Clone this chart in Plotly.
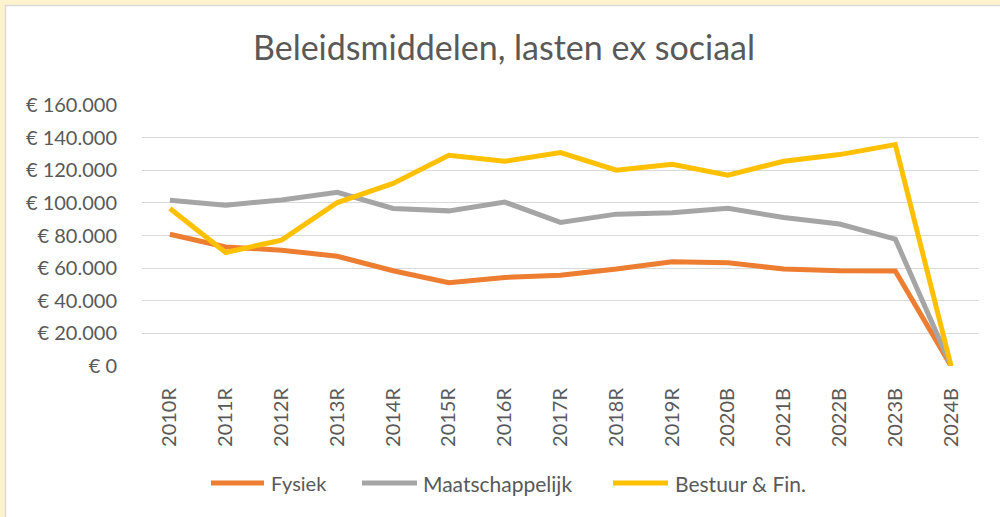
import plotly.graph_objects as go

categories = ["2010R", "2011R", "2012R", "2013R", "2014R", "2015R", "2016R", "2017R",
              "2018R", "2019R", "2020B", "2021B", "2022B", "2023B", "2024B"]
fysiek = [80800, 73000, 71000, 67300, 58400, 51000, 54300, 55700,
          59400, 63900, 63300, 59400, 58400, 58200, 0]
maatschappelijk = [101600, 98600, 101800, 106500, 96600, 95100, 100500, 88000,
                   93100, 93900, 96700, 91000, 87000, 77800, 0]
bestuur = [96600, 69600, 77200, 100200, 111900, 129200, 125500, 130800,
           120000, 123700, 117000, 125500, 129600, 135700, 0]

series_names = ["Fysiek", "Maatschappelijk", "Bestuur & Fin."]
series_colors = ["#ED7D31", "#A5A5A5", "#FFC000"]
y_ticks = [0, 20000, 40000, 60000, 80000, 100000, 120000, 140000, 160000]
y_ticktext = ["€ " + f"{v:,}".replace(",", ".") for v in y_ticks]

W, H = 1000, 517
L, R, T, B = 142, 21, 105, 151
PW, PH = W - L - R, H - T - B

def px(x):
    return (x - L) / PW

def py(y):
    return (H - B - y) / PH

FONT = "Lato, 'Open Sans', sans-serif"
TXT = "#595959"

fig = go.Figure()
for name, vals, col in zip(series_names, [fysiek, maatschappelijk, bestuur], series_colors):
    fig.add_trace(go.Scatter(x=categories, y=vals, name=name, mode="lines",
                             line=dict(color=col, width=5), showlegend=False))

shapes = [dict(type="rect", xref="paper", yref="paper", layer="below",
               x0=px(5.5), x1=px(1020), y0=py(540), y1=py(5.5),
               fillcolor="#FFFFFF", line=dict(color="#D9D9D9", width=1.5))]
annotations = []
legend_line_x = [(211, 264), (362, 417), (613, 668)]
legend_text_x = [269, 421, 673]
legend_font_size = [20, 21, 21]
LEG_Y = 483
for name, col, (a, b), tx, fs in zip(series_names, series_colors, legend_line_x,
                                     legend_text_x, legend_font_size):
    shapes.append(dict(type="line", xref="paper", yref="paper", x0=px(a), x1=px(b),
                       y0=py(LEG_Y), y1=py(LEG_Y), line=dict(color=col, width=5)))
    annotations.append(dict(text=name, xref="paper", yref="paper", x=px(tx), y=py(LEG_Y),
                            xanchor="left", yanchor="middle", showarrow=False,
                            font=dict(family=FONT, size=fs, color=TXT)))

fig.update_layout(
    width=W, height=H,
    margin=dict(l=L, r=R, t=T, b=B, pad=0),
    paper_bgcolor="#FFF2CC",
    plot_bgcolor="#FFFFFF",
    font=dict(family=FONT, color=TXT, size=20),
    title=dict(text="Beleidsmiddelen, lasten ex sociaal", x=px(504), xref="paper",
               xanchor="center", y=1 - 48 / H, yanchor="middle",
               font=dict(family=FONT, size=34, color=TXT)),
    xaxis=dict(type="category", range=[-0.5, len(categories) - 0.5], showgrid=False,
               showline=False, zeroline=False, tickangle=-90,
               tickfont=dict(size=20, color=TXT), ticks="", ticklabelstandoff=17),
    yaxis=dict(range=[0, 160000], tickmode="array", tickvals=y_ticks, ticktext=y_ticktext,
               showgrid=True, gridcolor="#D9D9D9", gridwidth=1.3, zeroline=False,
               showline=False, tickfont=dict(size=20, color=TXT), ticklabelstandoff=24),
    shapes=shapes,
    annotations=annotations,
    showlegend=False,
)

fig.write_html("out.html", config={"displayModeBar": False},
               post_script="document.body.style.margin='0px';")
